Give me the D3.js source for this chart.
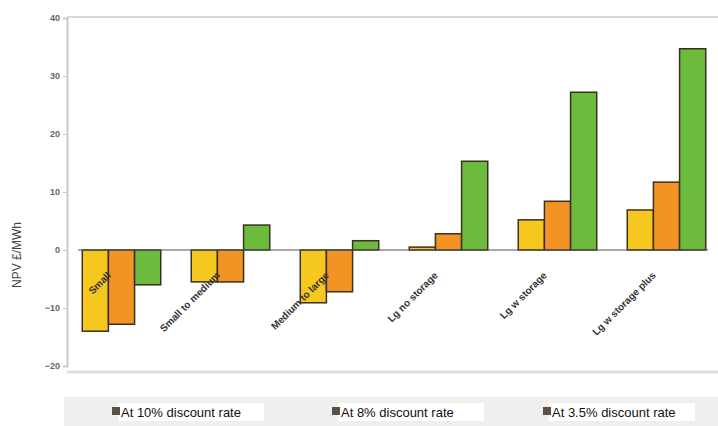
<!DOCTYPE html>
<html>
<head>
<meta charset="utf-8">
<script src="https://cdn.jsdelivr.net/npm/d3@7"></script>
<style>
  body { margin: 0; background: #fff; }
  svg { display: block; font-family: "Liberation Sans", Arial, sans-serif; }
</style>
</head>
<body>
<script>
// chart data
var categories = ["Small", "Small to medium", "Medium to large", "Lg no storage", "Lg w storage", "Lg w storage plus"]
var seriesNames = ["At 10% discount rate", "At 8% discount rate", "At 3.5% discount rate"]
var rate10 = [-14, -5.5, -9.1, 0.5, 5.2, 6.9]
var rate8 = [-12.8, -5.5, -7.2, 2.8, 8.4, 11.7]
var rate35 = [-6, 4.3, 1.6, 15.3, 27.2, 34.7]
var yTicks = [-20, -10, 0, 10, 20, 30, 40]
var colors = ["#f6c81f", "#f39324", "#6dbb3c"]

var width = 718, height = 426

var svg = d3.select("body")
  .append("svg")
  .attr("width", width)
  .attr("height", height)

var xScale = d3.scaleBand()
  .domain(categories)
  .range([67, 721])
  .paddingInner(0.28)
  .paddingOuter(0.14)

var xInner = d3.scaleBand()
  .domain(seriesNames)
  .range([0, xScale.bandwidth()])

var yScale = d3.scaleLinear()
  .domain([-20, 40])
  .range([366, 18])

// frame lines
svg.append("line").attr("x1", 67).attr("x2", 718).attr("y1", 17).attr("y2", 17)
  .attr("stroke", "#ddd6d2").attr("stroke-width", 2)
svg.append("line").attr("x1", 67).attr("x2", 718).attr("y1", 372).attr("y2", 372)
  .attr("stroke", "#e3dcd8").attr("stroke-width", 3)

var yAxis = d3.axisLeft(yScale).tickValues(yTicks).tickSize(4)
var gy = svg.append("g").attr("transform", "translate(67,0)").call(yAxis)
gy.select(".domain").attr("stroke", "#cfc8c4").attr("stroke-width", 2)
gy.selectAll(".tick line").attr("stroke", "#cfc8c4")
gy.selectAll(".tick text").attr("fill", "#666").attr("font-size", 9).attr("font-weight", "bold")

svg.append("text")
  .text("NPV £/MWh")
  .attr("transform", "translate(21,255) rotate(-90)")
  .attr("text-anchor", "middle")
  .attr("font-size", 12)
  .attr("fill", "#444")

var rows = categories.map(function(c, i) {
  return { cat: c, vals: [rate10[i], rate8[i], rate35[i]] }
})

var groups = svg.selectAll("g.grp")
  .data(rows)
  .enter()
  .append("g")
  .attr("class", "grp")
  .attr("transform", function(d) { return "translate(" + xScale(d.cat) + ",0)" })

groups.selectAll("rect")
  .data(function(d) { return d.vals.map(function(v, j) { return { s: seriesNames[j], v: v, j: j } }) })
  .enter()
  .append("rect")
  .attr("x", function(d) { return xInner(d.s) })
  .attr("width", xInner.bandwidth())
  .attr("y", function(d) { return yScale(Math.max(0, d.v)) })
  .attr("height", function(d) { return Math.abs(yScale(d.v) - yScale(0)) })
  .attr("fill", function(d) { return colors[d.j] })
  .attr("stroke", "#3a3020")
  .attr("stroke-width", 1.5)

// zero line
svg.append("line").attr("x1", 78).attr("x2", 708)
  .attr("y1", yScale(0)).attr("y2", yScale(0))
  .attr("stroke", "#555").attr("stroke-width", 1)

// category labels
svg.selectAll("text.cat")
  .data(categories)
  .enter()
  .append("text")
  .attr("class", "cat")
  .text(function(d) { return d })
  .attr("transform", function(d) {
    return "translate(" + (xScale(d) + xScale.bandwidth() / 2 - 10) + ",276) rotate(-45)"
  })
  .attr("text-anchor", "end")
  .attr("font-size", 10)
  .attr("font-weight", "bold")
  .attr("fill", "#333")

// legend
svg.append("rect").attr("x", 64).attr("y", 397).attr("width", 654).attr("height", 29).attr("fill", "#efefef")
var legX = [112, 332, 543]
var leg = svg.selectAll("g.leg")
  .data(seriesNames)
  .enter()
  .append("g")
  .attr("class", "leg")
  .attr("transform", function(d, i) { return "translate(" + legX[i] + ",403)" })
leg.append("rect").attr("x", 6).attr("y", 0).attr("width", 146).attr("height", 18).attr("fill", "#fff")
leg.append("rect").attr("x", 0).attr("y", 4).attr("width", 8).attr("height", 8).attr("fill", "#5a5048")
leg.append("text")
  .text(function(d) { return d })
  .attr("x", 9)
  .attr("y", 14)
  .attr("font-size", 13)
  .attr("fill", "#111")
</script>
</body>
</html>
